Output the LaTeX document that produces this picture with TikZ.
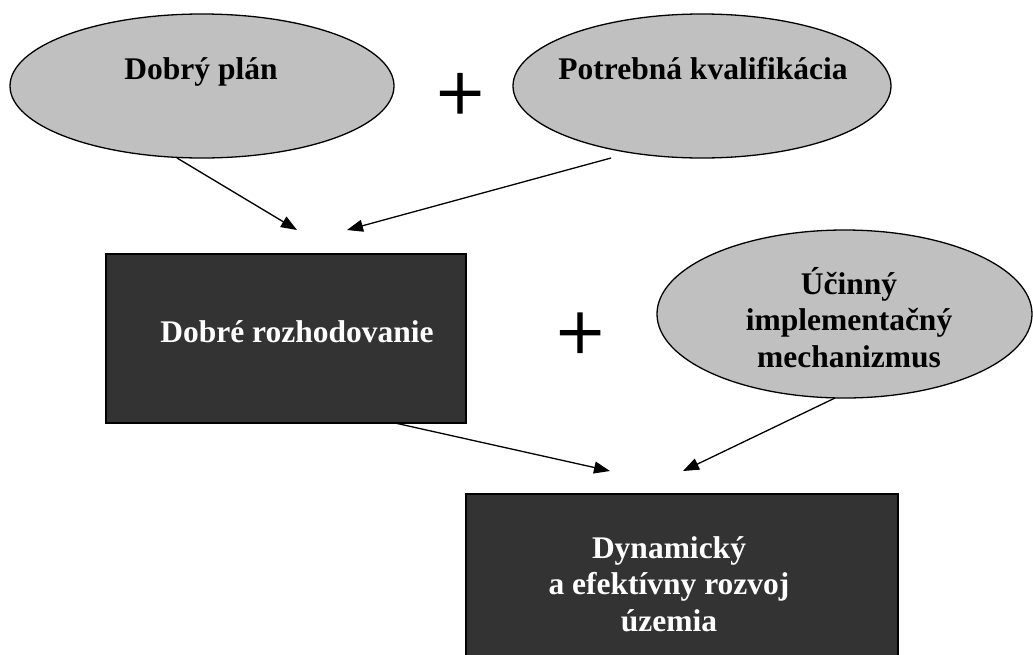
\documentclass[tikz,border=0pt]{standalone}
\usepackage{fontspec}
\setmainfont{Liberation Serif}
\newfontfamily\plusfont[FakeBold=1.2]{Liberation Serif}
\usetikzlibrary{shapes.geometric,arrows.meta}
\definecolor{ellgray}{HTML}{C0C0C0}
\definecolor{boxdark}{HTML}{333333}
\begin{document}
\begin{tikzpicture}[x=1pt,y=-1pt,
  oval/.style={ellipse, draw=black, line width=1.3pt, fill=ellgray, inner sep=0pt},
  darkbox/.style={rectangle, draw=black, line width=2pt, fill=boxdark, inner sep=0pt},
  lbl/.style={font=\bfseries\fontsize{31.5}{36.5}\selectfont, anchor=base, inner sep=0pt, align=center},
  plussign/.style={font=\plusfont\fontsize{85}{85}\selectfont, inner sep=0pt},
  arr/.style={line width=1.3pt, -{Triangle[length=16pt,width=12pt]}}]
\useasboundingbox (0,0) rectangle (1033,654);
\clip (0,0) rectangle (1033,654);

\node[oval, minimum width=384pt, minimum height=144pt] (e1) at (202,86) {};
\node[oval, minimum width=378pt, minimum height=144pt] (e2) at (702,86) {};
\node[oval, minimum width=375pt, minimum height=168pt] (e3) at (844.5,314) {};
\node[darkbox, minimum width=360pt, minimum height=169pt] (r1) at (286,338.5) {};
\node[darkbox, minimum width=432pt, minimum height=172pt] (r2) at (682,580) {};

\node[lbl] (t1) at (201,79) {Dobrý plán};
\node[lbl] (t2) at (703,79) {Potrebná kvalifikácia};
\node[lbl] (t3) at (849,367) {Účinný\\implementačný\\mechanizmus};
\node[lbl, text=white] (t4) at (297,342) {Dobré rozhodovanie};
\node[lbl, text=white] (t5) at (669,631) {Dynamický\\a efektívny rozvoj\\územia};

\node[plussign] (p1) at (460,97.5) {+};
\node[plussign] (p2) at (580,337) {+};

\coordinate (a1s) at (177,158); \coordinate (a1e) at (297,230);
\coordinate (a2s) at (611,158); \coordinate (a2e) at (347,230);
\coordinate (a3s) at (395,423); \coordinate (a3e) at (610,471);
\coordinate (a4s) at (835,398); \coordinate (a4e) at (683,471);

\draw[arr] (a1s) -- (a1e);
\draw[arr] (a2s) -- (a2e);
\draw[arr] (a3s) -- (a3e);
\draw[arr] (a4s) -- (a4e);
\end{tikzpicture}
\end{document}
